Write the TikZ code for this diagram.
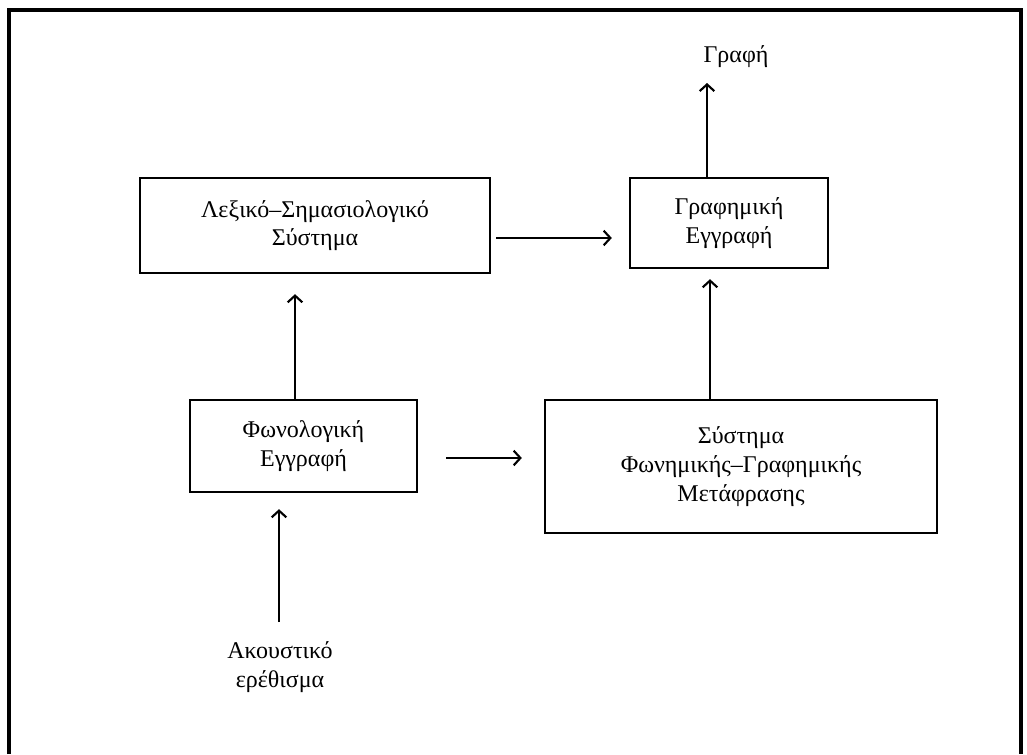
\documentclass[tikz,border=0pt]{standalone}
\usepackage{fontspec}
\setmainfont{Liberation Serif}
\usetikzlibrary{calc,arrows.meta}

\begin{document}
\begin{tikzpicture}[x=0.75pt,y=-0.75pt,
  box/.style={draw,line width=1.8pt,inner sep=0pt,align=center},
  lbl/.style={inner sep=0pt,align=center},
  arr/.style={line width=1.7pt,-{Straight Barb[length=5pt,width=11pt,line width=1.6pt]}},
  font=\fontsize{18}{21.5}\selectfont]
  \useasboundingbox (0,0) rectangle (1027,754);
  % frame, open at the bottom
  \draw[line width=2.6pt] (9,754) -- (9,10) -- (1021,10) -- (1021,754);

  \node[box,minimum width=262.5pt,minimum height=71.25pt] (lex) at (315,225.5) {Λεξικό–Σημασιολογικό\\Σύστημα};
  \node[box,minimum width=148.5pt,minimum height=67.5pt] (graf) at (729,223) {Γραφημική\\Εγγραφή};
  \node[box,minimum width=170.25pt,minimum height=69pt] (fon) at (303.5,446) {Φωνολογική\\Εγγραφή};
  \node[box,minimum width=294pt,minimum height=99.75pt] (sys) at (741,466.5) {Σύστημα\\Φωνημικής–Γραφημικής\\Μετάφρασης};
  \node[lbl] (grafi) at (736,57) {Γραφή};
  \node[lbl] (akoust) at (280,667) {Ακουστικό\\ερέθισμα};

  \draw[arr] ($(akoust.center)+(-1,-45)$) -- ($(fon.south)+(-24.5,16)$);
  \draw[arr] ($(fon.north)+(-8.5,0)$) -- ($(lex.south)+(-20,20)$);
  \draw[arr] ($(lex.east)+(5,12.5)$) -- ($(graf.west)+(-17,15)$);
  \draw[arr] ($(fon.east)+(28,12)$) -- ($(sys.west)+(-22,-8.5)$);
  \draw[arr] ($(sys.north)+(-31,0)$) -- ($(graf.south)+(-19,10)$);
  \draw[arr] ($(graf.north)+(-22,0)$) -- ($(grafi.center)+(-29,26)$);
\end{tikzpicture}
\end{document}
